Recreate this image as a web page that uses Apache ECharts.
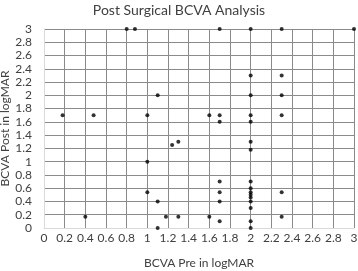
<!DOCTYPE html>
<html>
<head>
<meta charset="utf-8">
<script src="https://cdn.jsdelivr.net/npm/echarts@6/dist/echarts.min.js"></script>
<style>
  html, body {margin: 0; padding: 0; background: #fff;}
  #chart {width: 358px; height: 271px;}
</style>
</head>
<body>
<div id="chart"></div>
<script>
// BCVA pre (x) and post (y) in logMAR
const preValues = [
  0.18, 0.48, 0.4, 0.8, 0.88, 1.0, 1.1, 1.0, 1.0, 1.1, 1.1, 1.18, 1.3, 1.24, 1.3,
  1.6, 1.7, 1.7, 1.7, 1.7, 1.7, 1.7, 1.6, 1.7,
  2, 2, 2, 2, 2, 2, 2, 2, 2, 2, 2, 2, 2, 2, 2, 2,
  2.3, 2.3, 2.3, 2.3, 2.3, 2.3, 3
];
const postValues = [
  1.7, 1.7, 0.17, 3, 3, 1.7, 2.0, 1.0, 0.54, 0.4, 0, 0.17, 0.17, 1.25, 1.3,
  1.7, 1.7, 1.6, 3, 0.7, 0.54, 0.4, 0.17, 0.1,
  3, 2.3, 2, 1.7, 1.6, 1.3, 1.18, 0.7, 0.6, 0.54, 0.5, 0.46, 0.4, 0.3, 0.1, 0,
  3, 2.3, 2, 1.7, 0.54, 0.17, 3
];
const points = preValues.map((x, i) => [x, postValues[i]]);

const font = 'Lato, "Open Sans", sans-serif';
const gridColor = '#8a8a8a';

let myChart = echarts.init(document.getElementById('chart'));
myChart.setOption({
  animation: false,
  title: {
    text: 'Post Surgical BCVA Analysis',
    left: 'center',
    top: -2,
    textStyle: {fontFamily: font, fontSize: 14, fontWeight: 'normal', color: '#404040'}
  },
  grid: {left: 44, right: 4, top: 29, bottom: 43, containLabel: false, outerBoundsMode: 'none'},
  xAxis: {
    type: 'value',
    min: 0, max: 3, interval: 0.2,
    name: 'BCVA Pre in logMAR',
    nameLocation: 'middle',
    nameGap: 29,
    nameMoveOverlap: false,
    nameTextStyle: {fontFamily: font, fontSize: 12, color: '#404040'},
    axisLine: {show: true, lineStyle: {color: '#d9d9d9'}},
    axisTick: {show: false},
    axisLabel: {fontFamily: font, fontSize: 12, color: '#404040', margin: 4},
    splitLine: {show: true, lineStyle: {color: gridColor}}
  },
  yAxis: {
    type: 'value',
    min: 0, max: 3, interval: 0.2,
    name: 'BCVA Post in logMAR',
    nameLocation: 'middle',
    nameGap: 33,
    nameMoveOverlap: false,
    nameTextStyle: {fontFamily: font, fontSize: 12, color: '#404040'},
    axisLine: {show: true, lineStyle: {color: '#d9d9d9'}},
    axisTick: {show: false},
    axisLabel: {fontFamily: font, fontSize: 12, color: '#404040', margin: 12},
    splitLine: {show: true, lineStyle: {color: gridColor}}
  },
  series: [
    {
      type: 'scatter',
      data: points,
      symbol: 'circle',
      symbolSize: 4,
      clip: false,
      itemStyle: {color: '#000'}
    }
  ]
});
</script>
</body>
</html>
